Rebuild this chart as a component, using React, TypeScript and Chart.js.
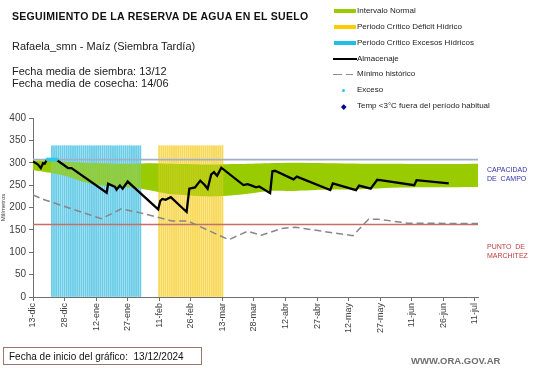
import React, { useEffect, useRef } from "react";
import { Chart, registerables } from "chart.js";

Chart.register(...registerables);

// ---- Data ----
const tickDays = [0, 15, 30, 45, 60, 75, 90, 105, 120, 135, 150, 165, 180, 195, 210];
const tickLabels = [
  "13-dic", "28-dic", "12-ene", "27-ene", "11-feb", "26-feb", "13-mar", "28-mar",
  "12-abr", "27-abr", "12-may", "27-may", "11-jun", "26-jun", "11-jul",
];

const almDays = [
  0, 2.4, 3.7, 4.8, 5.6, 6.4, 7, 11, 14.3, 16.7, 18.3, 35, 35.7, 39, 39.7, 41.3, 42.6, 45,
  59.5, 60.5, 61.5, 63, 65.5, 73, 74.3, 77, 79.5, 81.5, 83, 84.7, 86, 87.5, 89.5,
  100, 102, 104, 106, 107.5, 112.7, 113.8, 115, 123.8, 125.4, 141.3, 142.5, 153.5, 155,
  160.5, 163.6, 165, 181.2, 182.3, 197.6,
];
const almValues = [
  303, 296, 288, 299, 298, 305, 307, 307, 296, 288, 288, 233, 253, 246, 240, 249, 242, 258,
  196, 215, 219, 217, 223, 190, 242, 245, 260, 251, 242, 274, 279, 271, 289,
  250, 252, 249, 245, 247, 232, 281, 282, 263, 269, 239, 254, 239, 249,
  242, 262, 261, 250, 261, 254,
];

const minDays = [0, 5, 32.5, 42, 51, 66, 73.5, 93, 102, 108.5, 118, 124.5, 152, 159.5, 164, 178, 211.5];
const minValues = [228, 218, 175, 197, 188, 170, 170, 128, 147, 138, 153, 156, 137, 174, 174, 165, 164];

const bandDays = [0, 5, 10, 16, 25, 33, 40, 48, 56, 64, 72, 80, 88, 96, 104, 112, 124, 140, 156, 171, 187, 211.5];
const bandUpper = [305, 305, 304, 302, 300, 299, 298, 298, 299, 298, 297, 296, 296, 297, 298, 299, 300, 299, 298, 298, 297, 298];
const bandLower = [284, 280, 276, 270, 256, 249, 246, 244, 238, 231, 228, 225, 225, 228, 232, 237, 237, 240, 241, 244, 245, 246];

const capacidadCampo = 307;
const puntoMarchitez = 162;

const excesoDays = [7, 8, 9, 10, 11];
const excesoValues = [307, 307, 307, 307, 307];

const periodoExcesos = [9, 51];
const periodoDeficit = [60, 90];
const periodoTop = 338;

const X_MAX = 211.5;

export default function App() {
  const ref = useRef<HTMLCanvasElement | null>(null);

  useEffect(() => {
    document.body.style.margin = "0";
    const canvas = ref.current;
    if (!canvas) return;

    const pts = (xs: number[], ys: number[]) => xs.map((x, i) => ({ x, y: ys[i] }));

    const stripes: { x: number; y: number }[] = [];
    for (let d = periodoExcesos[0]; d <= periodoExcesos[1]; d++) stripes.push({ x: d, y: periodoTop });
    for (let d = periodoDeficit[0]; d <= periodoDeficit[1]; d++) stripes.push({ x: d, y: periodoTop });

    const isBlue = (ctx: any) => ctx.raw && ctx.raw.x <= periodoExcesos[1];
    const stripeColor = (ctx: any) => (isBlue(ctx) ? "rgb(100,203,230)" : "rgb(247,220,105)");
    const tintColor = (ctx: any) => (isBlue(ctx) ? "rgba(120,210,235,0.35)" : "rgba(250,210,60,0.4)");

    const chart = new Chart(canvas, {
      type: "line",
      data: {
        datasets: [
          {
            label: "Exceso",
            data: pts(excesoDays, excesoValues),
            showLine: false,
            pointRadius: 2,
            pointBorderWidth: 0,
            pointBackgroundColor: "rgb(40,200,235)",
            order: 0,
          } as any,
          {
            label: "Almacenaje",
            data: pts(almDays, almValues),
            borderColor: "#000",
            borderWidth: 2.3,
            pointRadius: 0,
            tension: 0,
            order: 1,
          },
          {
            label: "Mínimo histórico",
            data: pts(minDays, minValues),
            borderColor: "rgb(135,135,135)",
            borderWidth: 1.5,
            borderDash: [7, 4],
            pointRadius: 0,
            tension: 0,
            order: 2,
          },
          {
            label: "Capacidad",
            data: [{ x: 0, y: capacidadCampo }, { x: X_MAX, y: capacidadCampo }],
            borderColor: "rgb(160,175,200)",
            borderWidth: 1.8,
            pointRadius: 0,
            order: 3,
          },
          {
            label: "Marchitez",
            data: [{ x: 0, y: puntoMarchitez }, { x: X_MAX, y: puntoMarchitez }],
            borderColor: "rgb(200,110,105)",
            borderWidth: 1.5,
            pointRadius: 0,
            order: 3,
          },
          {
            type: "bar",
            label: "Periodos (tinte)",
            data: stripes,
            barThickness: 1.1,
            grouped: false,
            borderWidth: 0,
            backgroundColor: tintColor,
            order: 4,
          } as any,
          {
            label: "Intervalo Normal",
            data: pts(bandDays, bandUpper),
            borderWidth: 0,
            borderColor: "rgba(0,0,0,0)",
            backgroundColor: "rgb(153,204,0)",
            fill: 7,
            pointRadius: 0,
            tension: 0.3,
            order: 5,
          },
          {
            label: "lower",
            data: pts(bandDays, bandLower),
            borderWidth: 0,
            borderColor: "rgba(0,0,0,0)",
            pointRadius: 0,
            tension: 0.3,
            fill: false,
            order: 6,
          },
          {
            type: "bar",
            label: "Periodos",
            data: stripes,
            barThickness: 1.1,
            grouped: false,
            borderWidth: 0,
            backgroundColor: stripeColor,
            order: 7,
          } as any,
        ],
      },
      options: {
        animation: false,
        responsive: false,
        maintainAspectRatio: false,
        layout: { padding: { left: 0, top: 118, right: 63, bottom: 0 } },
        plugins: {
          legend: { display: false },
          tooltip: { enabled: false },
        },
        scales: {
          x: {
            type: "linear",
            min: 0,
            max: X_MAX,
            offset: false,
            afterFit: (s: any) => {
              s.height = 71;
              s.paddingLeft = 0;
              s.paddingRight = 0;
            },
            afterBuildTicks: (s: any) => {
              s.ticks = tickDays.map((v) => ({ value: v }));
            },
            ticks: {
              autoSkip: false,
              maxRotation: 90,
              minRotation: 90,
              padding: 2,
              color: "#404040",
              font: { family: "Liberation Sans", size: 9 },
              callback: (v: any) => {
                const i = tickDays.indexOf(Number(v));
                return i >= 0 ? tickLabels[i] : "";
              },
            },
            grid: {
              offset: false,
              drawOnChartArea: false,
              drawTicks: true,
              tickLength: 4,
              color: "#707070",
            },
            border: { display: true, color: "#707070", width: 1 },
          },
          y: {
            type: "linear",
            min: 0,
            max: 400,
            beginAtZero: true,
            afterFit: (s: any) => {
              s.width = 33;
              s.paddingTop = 0;
              s.paddingBottom = 0;
            },
            ticks: {
              stepSize: 50,
              padding: 3,
              color: "#404040",
              font: { family: "Liberation Sans", size: 10 },
            },
            title: {
              display: true,
              text: "Milímetros",
              color: "#404040",
              font: { family: "Liberation Sans", size: 6 },
              padding: { top: 0, bottom: 0 },
            },
            grid: {
              drawOnChartArea: false,
              drawTicks: true,
              tickLength: 4,
              color: "#707070",
            },
            border: { display: true, color: "#707070", width: 1 },
          },
        },
      },
    });

    return () => chart.destroy();
  }, []);

  const abs = (style: React.CSSProperties): React.CSSProperties => ({
    position: "absolute",
    whiteSpace: "nowrap",
    ...style,
  });

  const legendItems: { label: string; swatch: React.ReactNode; y: number }[] = [
    {
      label: "Intervalo Normal",
      y: 11,
      swatch: <div style={abs({ left: 334, top: 9, width: 22, height: 4, background: "rgb(153,204,0)" })} />,
    },
    {
      label: "Periodo Crítico Déficit Hídrico",
      y: 27,
      swatch: <div style={abs({ left: 334, top: 25, width: 22, height: 4, background: "rgb(255,204,0)" })} />,
    },
    {
      label: "Periodo Crítico Excesos Hídricos",
      y: 43,
      swatch: <div style={abs({ left: 334, top: 41, width: 22, height: 4, background: "rgb(30,190,235)" })} />,
    },
    {
      label: "Almacenaje",
      y: 59,
      swatch: <div style={abs({ left: 333, top: 58, width: 24, height: 2, background: "#000" })} />,
    },
    {
      label: "Mínimo histórico",
      y: 74,
      swatch: (
        <>
          <div style={abs({ left: 333, top: 73.5, width: 9, height: 1.5, background: "rgb(140,140,140)" })} />
          <div style={abs({ left: 346, top: 73.5, width: 7, height: 1.5, background: "rgb(140,140,140)" })} />
        </>
      ),
    },
    {
      label: "Exceso",
      y: 90,
      swatch: (
        <div style={abs({ left: 342, top: 88.5, width: 3, height: 3, borderRadius: 2, background: "rgb(40,200,235)" })} />
      ),
    },
    {
      label: "Temp <3°C fuera del período habitual",
      y: 106,
      swatch: (
        <div
          style={abs({
            left: 341.5,
            top: 104.5,
            width: 3.5,
            height: 3.5,
            background: "rgb(0,0,150)",
            transform: "rotate(45deg)",
          })}
        />
      ),
    },
  ];

  return (
    <div
      style={{
        position: "fixed",
        left: 0,
        top: 0,
        width: 541,
        height: 368,
        background: "#fff",
        fontFamily: "'Liberation Sans', Arial, sans-serif",
        color: "#111",
        overflow: "hidden",
      }}
    >
      <canvas ref={ref} width={541} height={368} style={{ position: "absolute", left: 0, top: 0 }} />
      <div
        style={abs({
          left: 12,
          top: 10,
          fontSize: 10.5,
          letterSpacing: "0.3px",
          lineHeight: "12px",
          fontWeight: "bold",
        })}
      >
        SEGUIMIENTO DE LA RESERVA DE AGUA EN EL SUELO
      </div>
      <div style={abs({ left: 12, top: 40, fontSize: 11, lineHeight: "13px", color: "#222" })}>
        Rafaela_smn - Maíz (Siembra Tardía)
      </div>
      <div style={abs({ left: 12, top: 65, fontSize: 11, lineHeight: "12px", color: "#222" })}>
        Fecha media de siembra: 13/12
        <br />
        Fecha media de cosecha: 14/06
      </div>
      {legendItems.map((it, i) => (
        <React.Fragment key={i}>
          {it.swatch}
          <div style={abs({ left: 357, top: it.y - 5, fontSize: 8, lineHeight: "10px", color: "#222" })}>{it.label}</div>
        </React.Fragment>
      ))}
      <div style={abs({ left: 487, top: 166, fontSize: 7, lineHeight: "8.8px", color: "rgb(50,50,170)" })}>
        CAPACIDAD
        <br />
        DE&nbsp; CAMPO
      </div>
      <div style={abs({ left: 487, top: 242, fontSize: 7, lineHeight: "9px", color: "rgb(190,60,60)" })}>
        PUNTO&nbsp; DE
        <br />
        MARCHITEZ
      </div>
      <div
        style={abs({
          left: 3,
          top: 347,
          width: 199,
          height: 18,
          border: "1px solid rgb(150,120,110)",
          boxSizing: "border-box",
        })}
      />
      <div style={abs({ left: 9, top: 351, fontSize: 10, lineHeight: "12px", color: "#111" })}>
        Fecha de inicio del gráfico:&nbsp;&nbsp;13/12/2024
      </div>
      <div style={abs({ left: 411, top: 355, fontSize: 9.5, lineHeight: "11px", color: "rgb(110,110,110)", fontWeight: "bold" })}>
        WWW.ORA.GOV.AR
      </div>
    </div>
  );
}
